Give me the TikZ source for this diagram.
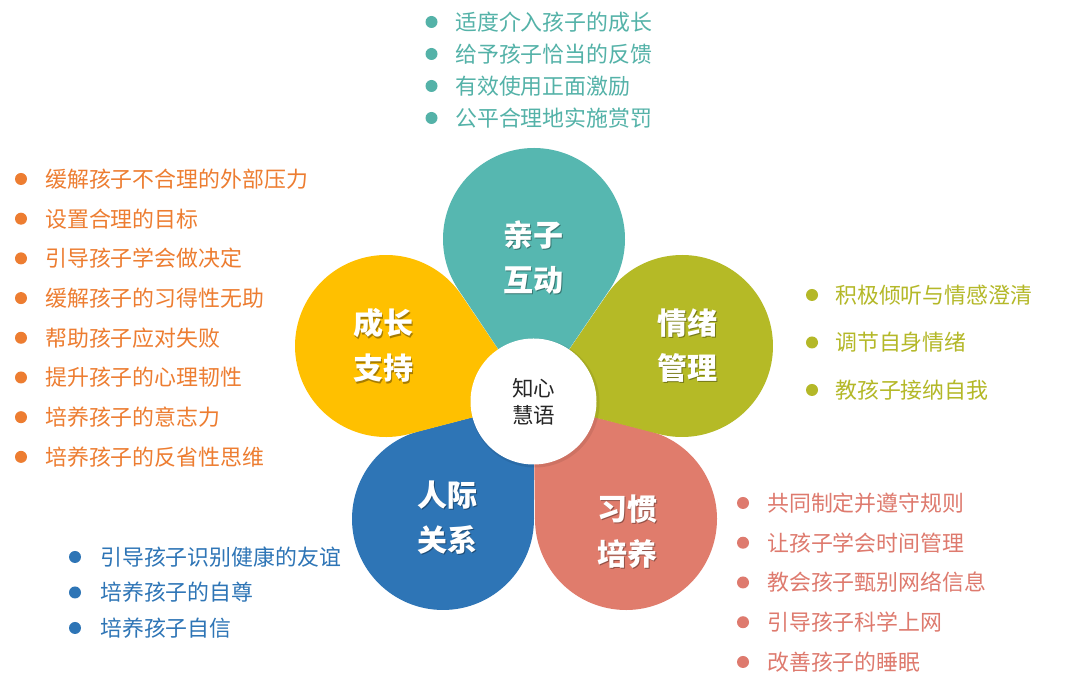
\documentclass[tikz,border=0pt]{standalone}
\usepackage{fontspec}
\newfontfamily\cjk{Noto Sans CJK SC}
\usetikzlibrary{calc}
\definecolor{tealc}{RGB}{86,183,176}
\definecolor{olivec}{RGB}{181,186,38}
\definecolor{yellowc}{RGB}{255,192,0}
\definecolor{bluec}{RGB}{46,117,182}
\definecolor{salmonc}{RGB}{224,124,108}
\definecolor{tealt}{RGB}{84,178,168}
\definecolor{orangt}{RGB}{237,125,49}
\definecolor{olivet}{RGB}{180,184,40}
\definecolor{salmont}{RGB}{222,122,110}
\definecolor{bluet}{RGB}{46,117,182}
\newcommand\drawpetal[3]{%
  \pgfmathsetmacro\dd{veclen(#2,#3)}%
  \pgfmathsetmacro\aa{atan2(#3,#2)}%
  \pgfmathsetmacro\hh{asin(91/\dd)}%
  \pgfmathsetmacro\LL{\dd*cos(\hh)}%
  \fill[#1] (P) -- ++(\aa+\hh:\LL) arc[start angle=\aa+90+\hh, end angle=\aa-90-\hh, radius=91] -- cycle;%
}
\tikzset{
  listtext/.style={anchor=west, inner sep=0pt, font=\cjk\fontsize{21.9}{26}\selectfont},
  petallabel/.style={align=center, inner sep=0pt, text=white, font=\cjk\bfseries\fontsize{30}{45}\selectfont},
  petalshadow/.style={align=center, inner sep=0pt, text=black, opacity=0.35, font=\cjk\bfseries\fontsize{30}{45}\selectfont},
}
\begin{document}
\begin{tikzpicture}[x=1pt,y=1pt]
\useasboundingbox[fill=white] (0,0) rectangle (1080,687);
\coordinate (P) at (533.5,285.5);
% petals
\drawpetal{bluec}{-90.5}{-117.5}
\drawpetal{salmonc}{92.5}{-117.5}
\drawpetal{yellowc}{-147.5}{55.5}
\drawpetal{olivec}{148.5}{55.5}
\drawpetal{tealc}{0.5}{162.5}
% centre
\fill[black,opacity=0.08] ($(P)+(1.5,-1.5)$) circle (64.5);
\node[circle, fill=white, minimum size=126pt, inner sep=0pt] (hub) at (P) {};
\node[align=center, inner sep=0pt, text=black!85, font=\cjk\fontsize{21.5}{27}\selectfont] (hubtext) at (533.5,285.5) {知心\\慧语};
% petal labels
\foreach \nm/\x/\y/\t in {lqz/533/429.5/{亲子\\互动}, lcz/383/341.5/{成长\\支持}, lqx/687/341.5/{情绪\\管理}, lrj/447/169.5/{人际\\关系}, lxg/627/155.5/{习惯\\培养}}{
  \node[petalshadow] at (\x+1.5,\y-1.5) {\t};
  \node[petallabel] (\nm) at (\x,\y) {\t};
}
% teal list
\foreach \t [count=\i] in {适度介入孩子的成长, 给予孩子恰当的反馈, 有效使用正面激励, 公平合理地实施赏罚}{
  \pgfmathsetmacro\yy{687-(22+(\i-1)*32)}
  \fill[tealt] (431.5,\yy) circle (6);
  \node[listtext, text=tealt] (ta\i) at (455,\yy) {\t};
}
% orange list
\foreach \t [count=\i] in {缓解孩子不合理的外部压力, 设置合理的目标, 引导孩子学会做决定, 缓解孩子的习得性无助, 帮助孩子应对失败, 提升孩子的心理韧性, 培养孩子的意志力, 培养孩子的反省性思维}{
  \pgfmathsetmacro\yy{687-(179+(\i-1)*39.7)}
  \fill[orangt] (21,\yy) circle (6);
  \node[listtext, text=orangt] (oa\i) at (45,\yy) {\t};
}
% olive list
\foreach \t [count=\i] in {积极倾听与情感澄清, 调节自身情绪, 教孩子接纳自我}{
  \pgfmathsetmacro\yy{687-(295+(\i-1)*47.5)}
  \fill[olivet] (812,\yy) circle (6);
  \node[listtext, text=olivet] (va\i) at (835,\yy) {\t};
}
% salmon list
\foreach \t [count=\i] in {共同制定并遵守规则, 让孩子学会时间管理, 教会孩子甄别网络信息, 引导孩子科学上网, 改善孩子的睡眠}{
  \pgfmathsetmacro\yy{687-(503+(\i-1)*39.75)}
  \fill[salmont] (743,\yy) circle (6);
  \node[listtext, text=salmont] (sa\i) at (767,\yy) {\t};
}
% blue list
\foreach \t [count=\i] in {引导孩子识别健康的友谊, 培养孩子的自尊, 培养孩子自信}{
  \pgfmathsetmacro\yy{687-(557+(\i-1)*35.5)}
  \fill[bluet] (75,\yy) circle (6);
  \node[listtext, text=bluet] (ba\i) at (100,\yy) {\t};
}
\end{tikzpicture}
\end{document}
